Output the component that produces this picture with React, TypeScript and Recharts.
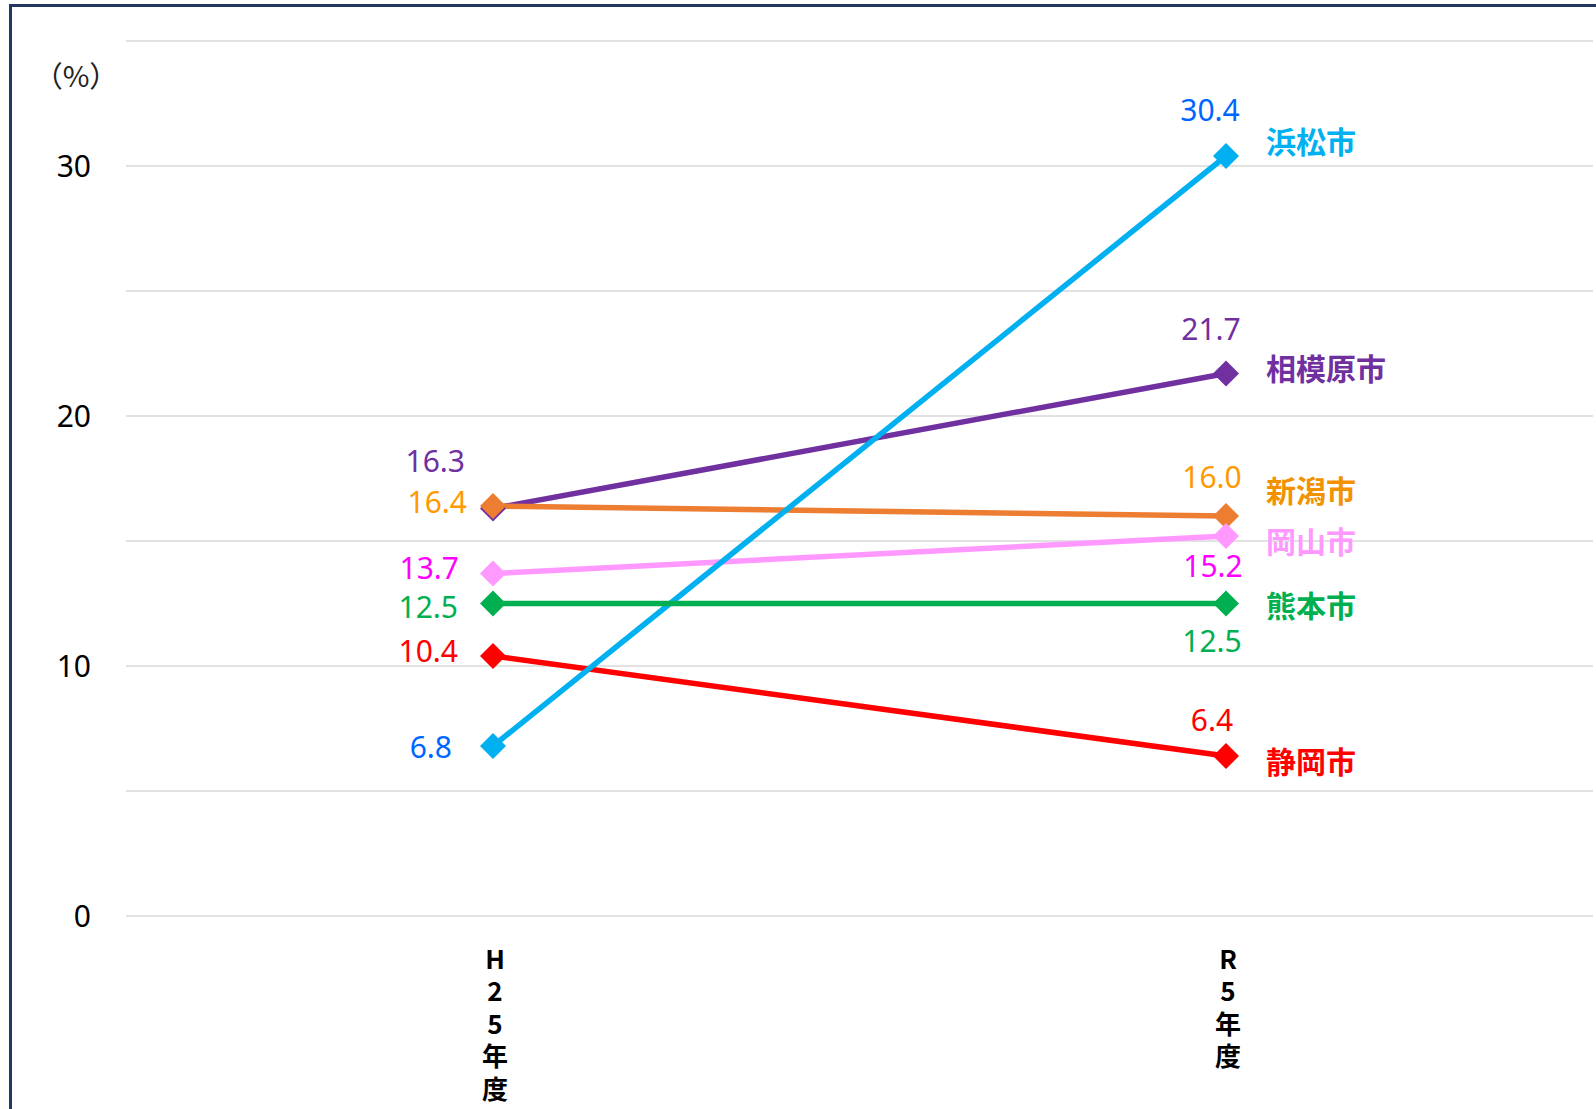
import React from 'react';
import { LineChart, Line, XAxis, YAxis, CartesianGrid, Label } from 'recharts';

const categories = ['H25年度', 'R5年度'];
const hamamatsu = [6.8, 30.4];
const sagamihara = [16.3, 21.7];
const niigata = [16.4, 16.0];
const okayama = [13.7, 15.2];
const kumamoto = [12.5, 12.5];
const shizuoka = [10.4, 6.4];
const yTicks = [0, 5, 10, 15, 20, 25, 30, 35];
const yLabeledTicks = [0, 10, 20, 30];
const unitLabel = '（%）';

const valuesByKey: Record<string, number[]> = { hamamatsu, sagamihara, niigata, okayama, kumamoto, shizuoka };

const data = categories.map((cat, i) => {
  const row: Record<string, string | number> = { cat };
  Object.keys(valuesByKey).forEach((k) => {
    row[k] = valuesByKey[k][i];
  });
  return row;
});

type Off = { dx: number; dy: number; anchor: 'start' | 'middle' | 'end' };
type Cfg = {
  key: string;
  name: string;
  line: string;
  valueColor: string;
  nameColor: string;
  left: Off;
  right: Off;
  nameDy: number;
};

// drawing order bottom -> top
const series: Cfg[] = [
  { key: 'sagamihara', name: '相模原市', line: '#7030A0', valueColor: '#7030A0', nameColor: '#7030A0',
    left: { dx: -28, dy: -48, anchor: 'end' }, right: { dx: -15, dy: -45, anchor: 'middle' }, nameDy: -7 },
  { key: 'niigata', name: '新潟市', line: '#ED7D31', valueColor: '#FF9900', nameColor: '#F39200',
    left: { dx: -26, dy: -5, anchor: 'end' }, right: { dx: -14, dy: -40, anchor: 'middle' }, nameDy: -27 },
  { key: 'okayama', name: '岡山市', line: '#FF99FF', valueColor: '#FF00FF', nameColor: '#FF99FF',
    left: { dx: -34, dy: -6, anchor: 'end' }, right: { dx: -13, dy: 29, anchor: 'middle' }, nameDy: 4 },
  { key: 'shizuoka', name: '静岡市', line: '#FF0000', valueColor: '#FF0000', nameColor: '#FF0000',
    left: { dx: -35, dy: -6, anchor: 'end' }, right: { dx: -14, dy: -37, anchor: 'middle' }, nameDy: 4 },
  { key: 'hamamatsu', name: '浜松市', line: '#00B0F0', valueColor: '#0066FF', nameColor: '#00B0F0',
    left: { dx: -41, dy: 0, anchor: 'end' }, right: { dx: -16, dy: -47, anchor: 'middle' }, nameDy: -16 },
  { key: 'kumamoto', name: '熊本市', line: '#00B050', valueColor: '#00B050', nameColor: '#00B050',
    left: { dx: -35, dy: 3, anchor: 'end' }, right: { dx: -14, dy: 37, anchor: 'middle' }, nameDy: 0 },
];

const numFont = '"Noto Sans", "Open Sans", sans-serif';
const cjkFont = '"Noto Sans CJK JP", "Noto Sans", sans-serif';

const makeDot = (cfg: Cfg) => (props: any) => {
  const { cx, cy, index, value } = props;
  if (cx == null || cy == null) return <g key={`d-${cfg.key}-${index}`} />;
  const r = 13;
  const off = index === 0 ? cfg.left : cfg.right;
  const v = typeof value === 'number' ? value : Array.isArray(value) ? value[1] : Number(value);
  return (
    <g key={`d-${cfg.key}-${index}`}>
      <path d={`M${cx},${cy - r}L${cx + r},${cy}L${cx},${cy + r}L${cx - r},${cy}Z`} fill={cfg.line} />
      <text
        x={cx + off.dx}
        y={cy + off.dy}
        textAnchor={off.anchor}
        dominantBaseline="central"
        fontFamily={numFont}
        fontSize={30}
        fill={cfg.valueColor}
      >
        {v.toFixed(1)}
      </text>
      {index === categories.length - 1 && (
        <text
          x={cx + 40}
          y={cy + cfg.nameDy}
          textAnchor="start"
          dominantBaseline="central"
          fontFamily={cjkFont}
          fontWeight={700}
          fontSize={30}
          fill={cfg.nameColor}
        >
          {cfg.name}
        </text>
      )}
    </g>
  );
};

const XTick = (props: any) => {
  const { x, y, payload } = props;
  const chars = String(payload.value).split('');
  return (
    <g>
      {chars.map((c, i) => (
        <text
          key={i}
          x={x + 2}
          y={y + 41 + i * 32.5}
          textAnchor="middle"
          dominantBaseline="central"
          fontFamily={cjkFont}
          fontWeight={700}
          fontSize={26}
          fill="#000"
        >
          {c}
        </text>
      ))}
    </g>
  );
};

export default function App() {
  return (
    <div style={{ position: 'fixed', left: 0, top: 0, width: 1596, height: 1109, overflow: 'hidden', background: '#fff' }}>
      <div
        style={{
          position: 'absolute',
          left: 9,
          top: 4,
          width: 1700,
          height: 1200,
          border: '3px solid #22385E',
          boxSizing: 'border-box',
        }}
      />
      <div style={{ position: 'absolute', left: 0, top: 0 }}>
        <LineChart width={1596} height={1109} data={data} margin={{ top: 41, right: 3, bottom: 43, left: 0 }}>
          <CartesianGrid horizontal vertical={false} stroke="#D9D9D9" strokeWidth={1.5} />
          <XAxis
            dataKey="cat"
            axisLine={false}
            tickLine={false}
            tickSize={0}
            tickMargin={0}
            height={150}
            interval={0}
            padding={{ left: 367, right: 367 }}
            tick={<XTick />}
          />
          <YAxis
            domain={[0, 35]}
            ticks={yTicks}
            interval={0}
            width={126}
            axisLine={false}
            tickLine={false}
            tickSize={0}
            tickMargin={35}
            tickFormatter={(v: number) => (yLabeledTicks.includes(v) ? String(v) : '')}
            tick={{ fontFamily: numFont, fontSize: 30, fill: '#000' }}
          >
            <Label
              content={() => (
                <text x={76} y={74} textAnchor="middle" dominantBaseline="central" fontFamily={cjkFont} fontSize={29} fill="#222">
                  {unitLabel}
                </text>
              )}
            />
          </YAxis>
          {series.map((cfg) => (
            <Line
              key={cfg.key}
              dataKey={cfg.key}
              name={cfg.name}
              stroke={cfg.line}
              strokeWidth={5.5}
              dot={makeDot(cfg)}
              activeDot={false}
              isAnimationActive={false}
            />
          ))}
        </LineChart>
      </div>
    </div>
  );
}
